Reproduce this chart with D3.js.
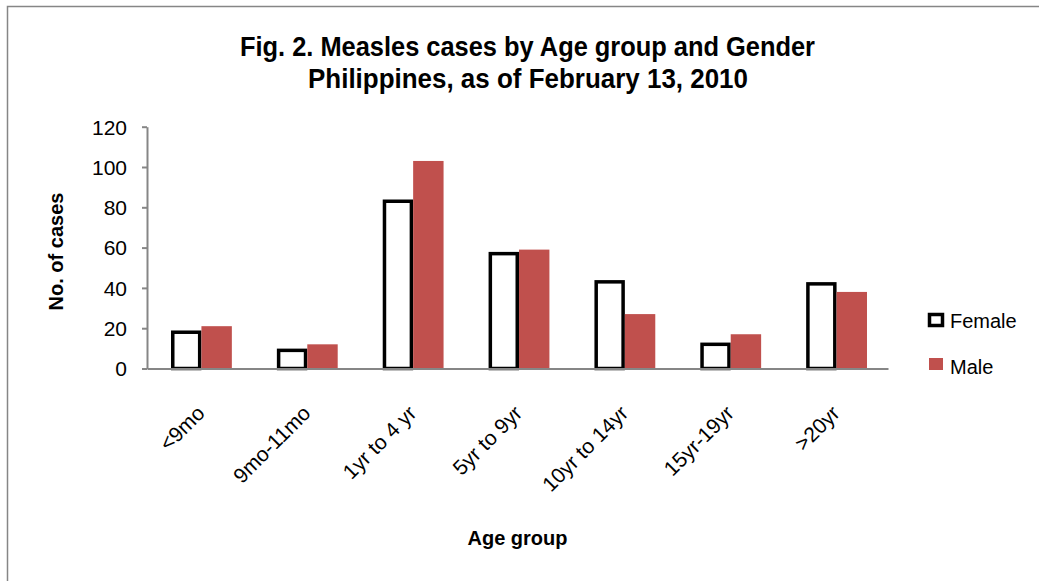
<!DOCTYPE html>
<html>
<head>
<meta charset="utf-8">
<script src="https://cdn.jsdelivr.net/npm/d3@7"></script>
<style>
  body { margin: 0; background: #fff; }
  svg { display: block; font-family: "Liberation Sans", Arial, sans-serif; }
  .axis .domain { stroke: #868686; stroke-width: 2; }
  .axis .tick line { stroke: #868686; stroke-width: 2; }
  .axis .tick text { fill: #000; font-size: 21px; }
</style>
</head>
<body>
<svg id="chart" width="1039" height="581"></svg>
<script>
const categories = ['<9mo', '9mo-11mo', '1yr to 4 yr', '5yr to 9yr', '10yr to 14yr', '15yr-19yr', '>20yr'];
const female = [18, 9, 83, 57, 43, 12, 42];
const male = [21, 12, 103, 59, 27, 17, 38];
const series = ['Female', 'Male'];
const yTicks = [0, 20, 40, 60, 80, 100, 120];

const svg = d3.select('#chart');

const maleColor = '#C0504D';
const borderColor = '#868686';

// outer chart border (runs off right and bottom edges)
svg.append('rect')
  .attr('x', 7.5)
  .attr('y', 6.5)
  .attr('width', 1100)
  .attr('height', 700)
  .attr('fill', 'none')
  .attr('stroke', borderColor)
  .attr('stroke-width', 1.5);

const x = d3.scaleBand()
  .domain(categories)
  .range([147, 888]);

const xSub = d3.scaleBand()
  .domain(series)
  .range([1.5, x.bandwidth() + 1.5])
  .paddingOuter(0.74);

const y = d3.scaleLinear()
  .domain([0, 120])
  .range([368.5, 126.7]);

const rows = categories.map((c, i) => ({ cat: c, Female: female[i], Male: male[i] }));

const groups = svg.append('g')
  .selectAll('g')
  .data(rows)
  .join('g')
    .attr('transform', d => `translate(${x(d.cat)},0)`);

const sw = 3.5;

groups.append('rect')
  .attr('x', xSub('Female') + sw / 2)
  .attr('width', xSub.bandwidth() - sw)
  .attr('y', d => y(d.Female))
  .attr('height', d => y(0) - y(d.Female))
  .attr('fill', '#fff')
  .attr('stroke', '#000')
  .attr('stroke-width', sw);

groups.append('rect')
  .attr('x', xSub('Male'))
  .attr('width', xSub.bandwidth())
  .attr('y', d => y(d.Male))
  .attr('height', d => y(0) - y(d.Male))
  .attr('fill', maleColor);

// axes
const yAxis = d3.axisLeft(y)
  .tickValues(yTicks)
  .tickSize(5)
  .tickSizeOuter(0)
  .tickPadding(15);

svg.append('g')
  .attr('class', 'axis')
  .attr('transform', 'translate(147,0)')
  .call(yAxis)
  .selectAll('.tick text')
    .attr('dy', '0.35em');

const xAxis = d3.axisBottom(x)
  .tickSize(0)
  .tickSizeOuter(0);

svg.append('g')
  .attr('class', 'axis')
  .attr('transform', `translate(0,${y(0)})`)
  .call(xAxis)
  .selectAll('.tick text')
    .attr('x', 0)
    .attr('y', 0)
    .attr('dy', 0)
    .attr('text-anchor', 'end')
    .attr('transform', 'translate(6,46) rotate(-45)');

// titles
const title = svg.append('g')
  .attr('font-weight', 'bold')
  .attr('font-size', 28)
  .attr('text-anchor', 'middle');

title.append('text')
  .attr('x', 527.5)
  .attr('y', 56)
  .attr('textLength', 575)
  .attr('lengthAdjust', 'spacingAndGlyphs')
  .text('Fig. 2. Measles cases by Age group and Gender');

title.append('text')
  .attr('x', 528)
  .attr('y', 88)
  .attr('textLength', 440)
  .attr('lengthAdjust', 'spacingAndGlyphs')
  .text('Philippines, as of February 13, 2010');

svg.append('text')
  .attr('transform', 'translate(63,251.5) rotate(-90)')
  .attr('text-anchor', 'middle')
  .attr('font-weight', 'bold')
  .attr('font-size', 20)
  .text('No. of cases');

svg.append('text')
  .attr('x', 517.5)
  .attr('y', 545)
  .attr('text-anchor', 'middle')
  .attr('font-weight', 'bold')
  .attr('font-size', 20)
  .text('Age group');

// legend
const legend = svg.append('g');

legend.append('rect')
  .attr('x', 929.5)
  .attr('y', 314.5)
  .attr('width', 13)
  .attr('height', 11)
  .attr('fill', '#fff')
  .attr('stroke', '#000')
  .attr('stroke-width', sw);

legend.append('text')
  .attr('x', 950)
  .attr('y', 328)
  .attr('font-size', 20)
  .text('Female');

legend.append('rect')
  .attr('x', 929)
  .attr('y', 358)
  .attr('width', 14)
  .attr('height', 12)
  .attr('fill', maleColor);

legend.append('text')
  .attr('x', 950)
  .attr('y', 374)
  .attr('font-size', 20)
  .text('Male');
</script>
</body>
</html>
